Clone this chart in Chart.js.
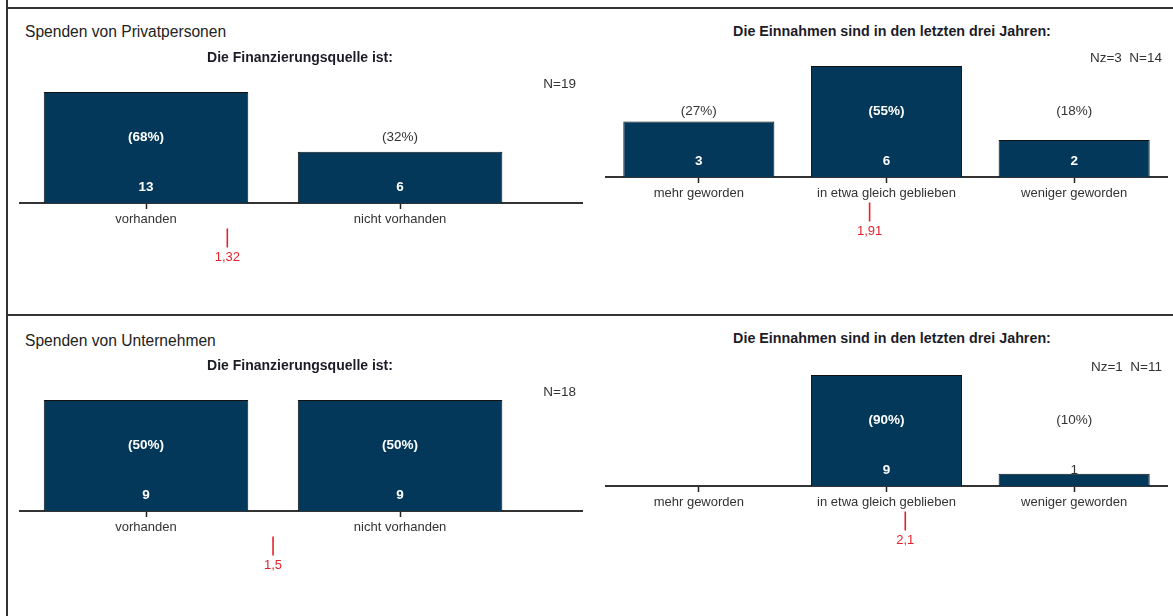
<!DOCTYPE html>
<html>
<head>
<meta charset="utf-8">
<script src="https://cdn.jsdelivr.net/npm/chart.js@4/dist/chart.umd.min.js"></script>
<style>
  body { margin: 0; background: #fff; width: 1173px; height: 616px; overflow: hidden; position: relative;
         font-family: "Liberation Sans", Arial, sans-serif; color: #222; }
  .line { position: absolute; background: #333; }
  .txt { position: absolute; white-space: pre; line-height: 18px; }
  .titel { font-size: 15.6px; color: #222; }
  .sub { font-size: 14px; font-weight: bold; color: #1c1c28; text-align: center; }
  .sub.r { font-size: 14.3px; }
  .n { font-size: 13.5px; color: #333; text-align: right; }
  canvas { position: absolute; }
</style>
</head>
<body>
<div class="line" style="left:6px; top:0; width:2px; height:616px;"></div>
<div class="line" style="left:6px; top:7px; width:1167px; height:2px;"></div>
<div class="line" style="left:6px; top:314px; width:1167px; height:2px;"></div>

<canvas id="c1" width="564" height="220" style="left:19px; top:60px;"></canvas>
<canvas id="c2" width="563" height="220" style="left:605px; top:40px;"></canvas>
<canvas id="c3" width="564" height="220" style="left:19px; top:368px;"></canvas>
<canvas id="c4" width="563" height="220" style="left:605px; top:348px;"></canvas>

<div class="txt titel" style="left:25px; top:23px;">Spenden von Privatpersonen</div>
<div class="txt sub" style="left:100px; width:400px; top:48px;">Die Finanzierungsquelle ist:</div>
<div class="txt n" style="right:597px; top:75px;">N=19</div>
<div class="txt sub r" style="left:692px; width:400px; top:22px;">Die Einnahmen sind in den letzten drei Jahren:</div>
<div class="txt n" style="right:11px; top:49px;">Nz=3  N=14</div>

<div class="txt titel" style="left:25px; top:332px;">Spenden von Unternehmen</div>
<div class="txt sub" style="left:100px; width:400px; top:356px;">Die Finanzierungsquelle ist:</div>
<div class="txt n" style="right:597px; top:383px;">N=18</div>
<div class="txt sub r" style="left:692px; width:400px; top:329px;">Die Einnahmen sind in den letzten drei Jahren:</div>
<div class="txt n" style="right:11px; top:358px;">Nz=1  N=11</div>

<script>
// Kategorien
const quelleLabels = ['vorhanden', 'nicht vorhanden'];
const einnahmenLabels = ['mehr geworden', 'in etwa gleich geblieben', 'weniger geworden'];

// Anzahl der Nennungen
const privatQuelle = [13, 6];
const privatEinnahmen = [3, 6, 2];
const unternehmenQuelle = [9, 9];
const unternehmenEinnahmen = [0, 9, 1];

// Mittelwerte (rote Markierung)
const privatMittel = [1.32, 1.91];
const unternehmenMittel = [1.5, 2.1];

const barColor = '#03385a';
const red = '#e3232b';
const font = '"Liberation Sans", Arial, sans-serif';

// Beschriftungen: Anzahl, Prozent und Mittelwert
const valueLabels = {
    id: 'valueLabels',
    afterDatasetsDraw(chart) {
        const ctx = chart.ctx;
        const values = chart.data.datasets[0].data.map(d => d.y);
        const total = values.reduce((a, b) => a + b, 0);
        ctx.save();
        ctx.textAlign = 'center';
        ctx.textBaseline = 'middle';
        chart.getDatasetMeta(0).data.forEach((bar, i) => {
            if (!values[i]) return;
            const pct = Math.round(values[i] / total * 100);
            const items = [[String(values[i]), bar.base - 16], ['(' + pct + '%)', bar.base - 66]];
            items.forEach(([text, y]) => {
                const inside = bar.y < y - 7;
                ctx.fillStyle = inside ? '#ffffff' : '#333333';
                ctx.font = (inside ? 'bold ' : '') + '13.5px ' + font;
                ctx.fillText(text, bar.x, y);
            });
        });
        const m = chart.getDatasetMeta(1).data[0];
        const mean = chart.data.datasets[1].data[0].x;
        ctx.fillStyle = red;
        ctx.font = '13px ' + font;
        ctx.fillText(String(mean).replace('.', ','), m.x, m.y + 19);
        ctx.restore();
    }
};

function makeChart(id, cats, values, mean, xMax, baseTop) {
    const canvas = document.getElementById(id);
    const ppu = 111 / Math.max(...values);
    const yMax = baseTop / ppu;
    const yMin = -(canvas.height - baseTop) / ppu;

    return new Chart(canvas.getContext('2d'), {
        type: 'bar',
        data: {
            datasets: [{
                type: 'bar',
                data: values.map((v, i) => ({ x: i + 1, y: v })),
                backgroundColor: barColor,
                borderColor: '#111111',
                borderWidth: 1,
                categoryPercentage: 1,
                barPercentage: 0.805
            }, {
                type: 'scatter',
                data: [{ x: mean, y: -35 / ppu }],
                pointStyle: 'line',
                rotation: 90,
                radius: 9.5,
                borderColor: red,
                borderWidth: 1.6
            }]
        },
        options: {
            responsive: false,
            animation: false,
            layout: { padding: 0, autoPadding: false },
            plugins: { legend: { display: false }, tooltip: { enabled: false } },
            scales: {
                x: {
                    type: 'linear',
                    position: { y: 0 },
                    min: 0.5,
                    max: xMax,
                    offset: false,
                    z: 1,
                    afterBuildTicks: axis => { axis.ticks = cats.map((c, i) => ({ value: i + 1 })); },
                    ticks: {
                        callback: v => cats[v - 1],
                        color: '#333333',
                        font: { family: font, size: 13 },
                        padding: 4,
                        maxRotation: 0,
                        autoSkip: false
                    },
                    grid: { drawOnChartArea: false, drawTicks: true, tickLength: 5, tickWidth: 1.5, tickColor: '#222222', offset: false },
                    border: { display: true, color: '#333333', width: 2 }
                },
                y: { display: false, min: yMin, max: yMax }
            }
        },
        plugins: [valueLabels]
    });
}

makeChart('c1', quelleLabels, privatQuelle, privatMittel[0], 2.72, 143);
makeChart('c2', einnahmenLabels, privatEinnahmen, privatMittel[1], 3.5, 137);
makeChart('c3', quelleLabels, unternehmenQuelle, unternehmenMittel[0], 2.72, 143);
makeChart('c4', einnahmenLabels, unternehmenEinnahmen, unternehmenMittel[1], 3.5, 138);
</script>
</body>
</html>
